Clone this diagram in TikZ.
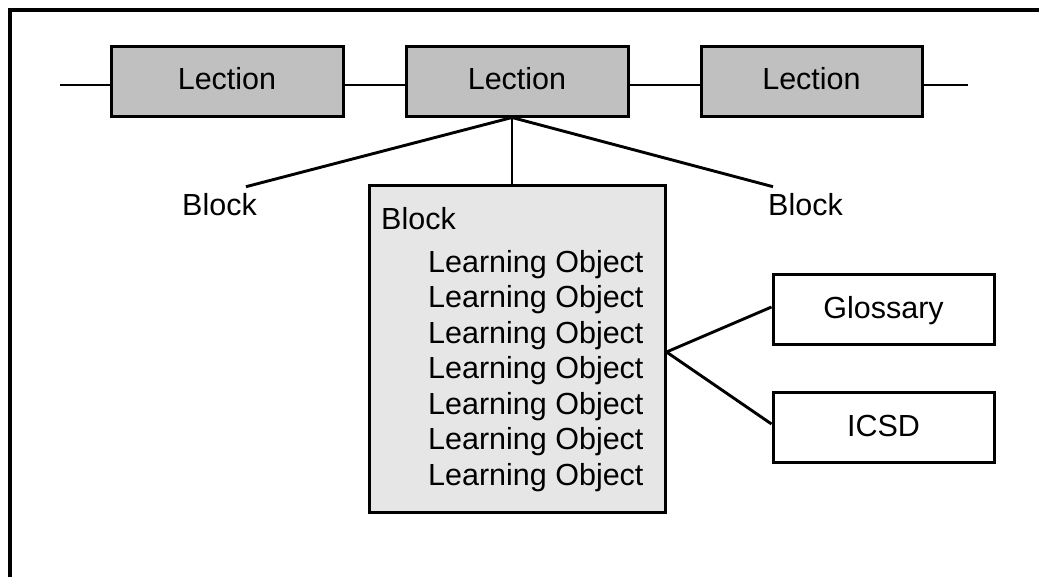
\documentclass[tikz,border=0pt]{standalone}
\usepackage{fontspec}
\setmainfont{Liberation Sans}
\definecolor{lectgray}{HTML}{C0C0C0}
\definecolor{blockgray}{HTML}{E6E6E6}
\begin{document}
\begin{tikzpicture}[x=1pt,y=-1pt,
  every node/.style={font=\fontsize{30.5}{35.5}\selectfont},
  conn/.style={line width=2.9pt},
  box/.style={draw=black, line width=3pt, inner sep=0pt,
    minimum height=70pt, text height=22pt, text depth=5pt},
  lection/.style={box, fill=lectgray},
  aux/.style={box, fill=white, minimum width=221pt, text depth=4pt},
  blockbox/.style={draw=black, line width=3pt, fill=blockgray,
    minimum width=296pt, minimum height=327pt, inner sep=0pt},
  plain/.style={inner sep=0pt, anchor=base west}]

% page and outer frame (only its top and left sides fall on the page)
\useasboundingbox (0,0) rectangle (1039,576);
\clip (0,0) rectangle (1039,576);
\draw[line width=3.2pt] (10,620) -- (10,10) -- (1080,10);

% chain of lections
\node[lection, minimum width=232pt] (l1) at (227,81) {Lection};
\node[lection, minimum width=222pt] (l2) at (517,81) {Lection};
\node[lection, minimum width=221pt] (l3) at (811.5,81) {Lection};
\coordinate (lstub) at (60,85);
\coordinate (rstub) at (968,85);
\draw[conn] (lstub) -- (lstub -| l1.west);
\draw[conn] ([yshift=-4pt]l1.east) -- ([yshift=-4pt]l2.west);
\draw[conn] ([yshift=-4pt]l2.east) -- ([yshift=-4pt]l3.west);
\draw[conn] ([yshift=-4pt]l3.east) -- (rstub);

% blocks of the middle lection
\node[plain] (bl) at (182,215) {Block};
\node[plain] (br) at (768,215) {Block};
\node[blockbox] (blk) at (517,348.5) {};
\node[plain] (bin) at (381,229) {Block};
\foreach \i in {1,...,7}
  \node[plain] (lo\i) at (428,{272+35.5*(\i-1)}) {Learning Object};

\coordinate (hub) at ([xshift=-5pt]l2.south);
\draw[conn] (hub) -- (hub |- blk.north);
\draw[conn] (hub) -- ([xshift=-11pt,yshift=6pt]bl.north east);
\draw[conn] (hub) -- ([xshift=5pt,yshift=6pt]br.north west);

% resources linked to the block
\node[aux] (gl) at (883.5,309) {Glossary};
\node[aux] (ic) at (883.5,427) {ICSD};
\coordinate (fork) at ([yshift=-3.5pt]blk.east);
\draw[conn] (fork) -- ([yshift=2pt]gl.west);
\draw[conn] (fork) -- ([yshift=3pt]ic.west);
\end{tikzpicture}
\end{document}
